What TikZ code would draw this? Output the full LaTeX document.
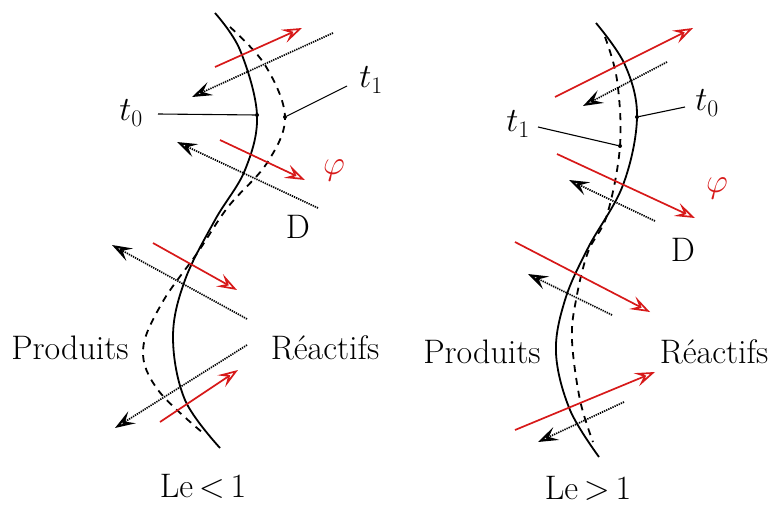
\RequirePackage{fix-cm}
\documentclass[tikz,border=0pt]{standalone}
\usetikzlibrary{arrows.meta}
\definecolor{fred}{RGB}{215,25,25}
\begin{document}
\begin{tikzpicture}[x=1pt,y=-1pt,
  front/.style={line width=1.8pt},
  frontd/.style={line width=1.8pt, dash pattern=on 7pt off 6pt},
  flux/.style={fred, line width=1.7pt, -{Stealth[open,length=20pt,width=14pt,inset=8pt,line width=1.7pt]}},
  diff/.style={black, line width=1.7pt, dash pattern=on 1.3pt off 1pt, -{Stealth[open,length=20pt,width=14pt,inset=8pt,line width=2.2pt]}},
  lab/.style={font=\fontsize{34}{40}\selectfont, inner sep=0pt},
  lead/.style={line width=1.1pt},
  dotn/.style={circle, fill, inner sep=0pt, minimum size=4pt}]
\useasboundingbox (0,0) rectangle (771,506);
% ---------------- left: Le < 1
\draw[front] plot[smooth, tension=0.6] coordinates {(215,13) (240,50) (257,115) (245,170) (215,220) (185,280) (173,337) (185,400) (220,448)};
\draw[frontd] plot[smooth, tension=0.6] coordinates {(230,27) (265,65) (285,117) (267,163) (228,207) (198,252) (162,303) (143,350) (158,390) (203,433)};
\node[dotn] (lt0p) at (257,115) {};
\node[dotn] (lt1p) at (285,117) {};
\node[lab] (lt0) at (131,113) {$t_0$};
\node[lab] (lt1) at (371,80) {$t_1$};
\coordinate (lt0e) at (158,114);
\coordinate (lt1e) at (347,86);
\draw[lead] (lt0e) -- (lt0p);
\draw[lead] (lt1e) -- (lt1p);
\coordinate (la1) at (215,67); \coordinate (lb1) at (302,28);
\coordinate (la2) at (333,33); \coordinate (lb2) at (192,97);
\coordinate (la3) at (220,140); \coordinate (lb3) at (305,180);
\coordinate (la4) at (318,208); \coordinate (lb4) at (177,142);
\coordinate (la5) at (153,243); \coordinate (lb5) at (237,290);
\coordinate (la6) at (247,319); \coordinate (lb6) at (112,245);
\coordinate (la7) at (160,422); \coordinate (lb7) at (238,370);
\coordinate (la8) at (247,345); \coordinate (lb8) at (115,428);
\draw[flux] (la1) -- (lb1);
\draw[diff] (la2) -- (lb2);
\draw[flux] (la3) -- (lb3);
\draw[diff] (la4) -- (lb4);
\draw[flux] (la5) -- (lb5);
\draw[diff] (la6) -- (lb6);
\draw[flux] (la7) -- (lb7);
\draw[diff] (la8) -- (lb8);
\node[lab, text=fred] (lphi) at (334,170) {$\varphi$};
\node[lab] (lD) at (298,227) {D};
\node[lab] (lprod) at (70,348) {Produits};
\node[lab] (lreac) at (325,348) {Réactifs};
\node[lab, anchor=base] (lle) at (203,497) {Le$\,{<}\,$1};
% ---------------- right: Le > 1
\draw[front] plot[smooth, tension=0.6] coordinates {(596,23) (625,65) (637,117) (623,185) (588,248) (565,300) (556,353) (570,410) (599,457)};
\draw[frontd] plot[smooth, tension=0.6] coordinates {(605,37) (617,80) (620,146) (607,215) (588,252) (576,300) (572,340) (580,400) (593,442)};
\node[dotn] (rt0p) at (637,117) {};
\node[dotn] (rt1p) at (620,146) {};
\node[lab] (rt0) at (707,103) {$t_0$};
\node[lab] (rt1) at (518,124) {$t_1$};
\coordinate (rt0e) at (685,107);
\coordinate (rt1e) at (538,127);
\draw[lead] (rt0e) -- (rt0p);
\draw[lead] (rt1e) -- (rt1p);
\coordinate (ra1) at (555,97); \coordinate (rb1) at (693,28);
\coordinate (ra2) at (667,62); \coordinate (rb2) at (583,106);
\coordinate (ra3) at (557,154); \coordinate (rb3) at (695,218);
\coordinate (ra4) at (655,221); \coordinate (rb4) at (569,180);
\coordinate (ra5) at (515,242); \coordinate (rb5) at (650,312);
\coordinate (ra6) at (612,315); \coordinate (rb6) at (528,274);
\coordinate (ra7) at (515,430); \coordinate (rb7) at (655,372);
\coordinate (ra8) at (624,402); \coordinate (rb8) at (538,442);
\draw[flux] (ra1) -- (rb1);
\draw[diff] (ra2) -- (rb2);
\draw[flux] (ra3) -- (rb3);
\draw[diff] (ra4) -- (rb4);
\draw[flux] (ra5) -- (rb5);
\draw[diff] (ra6) -- (rb6);
\draw[flux] (ra7) -- (rb7);
\draw[diff] (ra8) -- (rb8);
\node[lab, text=fred] (rphi) at (717,188) {$\varphi$};
\node[lab] (rD) at (683,250) {D};
\node[lab] (rprod) at (482,352) {Produits};
\node[lab] (rreac) at (714,352) {Réactifs};
\node[lab, anchor=base] (rle) at (588,499) {Le$\,{>}\,$1};
\end{tikzpicture}
\end{document}
